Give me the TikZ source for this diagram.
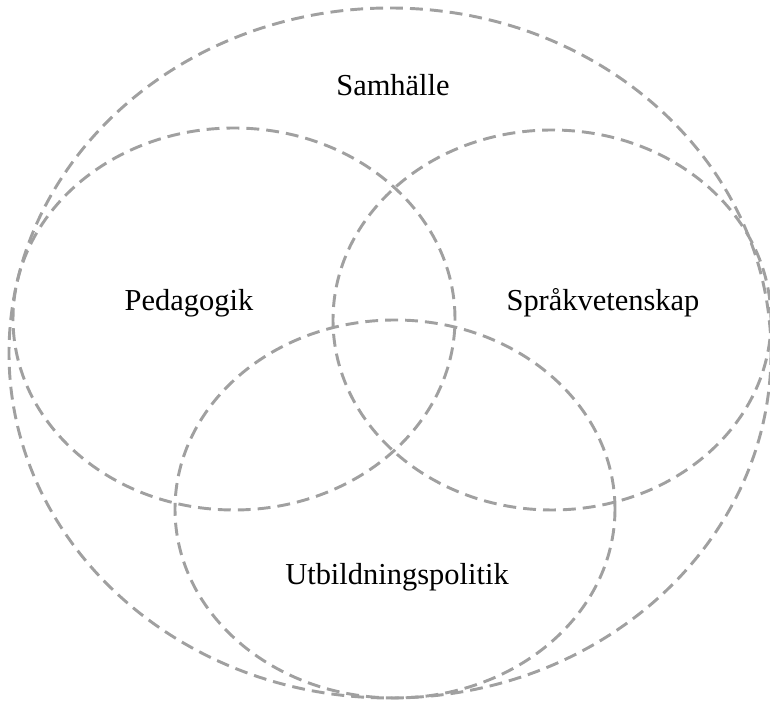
\documentclass[tikz,border=0pt]{standalone}
\usepackage{fontspec}
\setmainfont{Liberation Serif}
\usepackage{tikz}
\usetikzlibrary{positioning}
\definecolor{ringgray}{RGB}{160, 160, 160}
\tikzset{
    ring/.style={draw=ringgray, line width=2.5pt, dash pattern=on 11pt off 6pt},
    field/.style={font=\fontsize{26}{30}\selectfont, text=black, inner sep=0pt}
}

\begin{document}
\begin{tikzpicture}[x=0.03cm, y=0.03cm]
            \useasboundingbox                                              (0, 0) rectangle (770, 703);
            \draw[ring]                                                   (390, 350) ellipse   (381 and 345);
            \draw[ring]                                                   (234, 384) ellipse   (221 and 191);
            \draw[ring]                                                   (552, 383) ellipse   (219 and 190);
            \draw[ring]                                                   (395, 194) ellipse   (220 and 189);
            \node[field] (samhalle)  at (393, 618) {Samhälle};
            \node[field] (pedagogik) at (189, 400) {Pedagogik};
            \node[field] (sprak)     at (603, 400) {Språkvetenskap};
            \node[field] (utbildning) at (397, 126) {Utbildningspolitik};
        \end{tikzpicture}
\end{document}
